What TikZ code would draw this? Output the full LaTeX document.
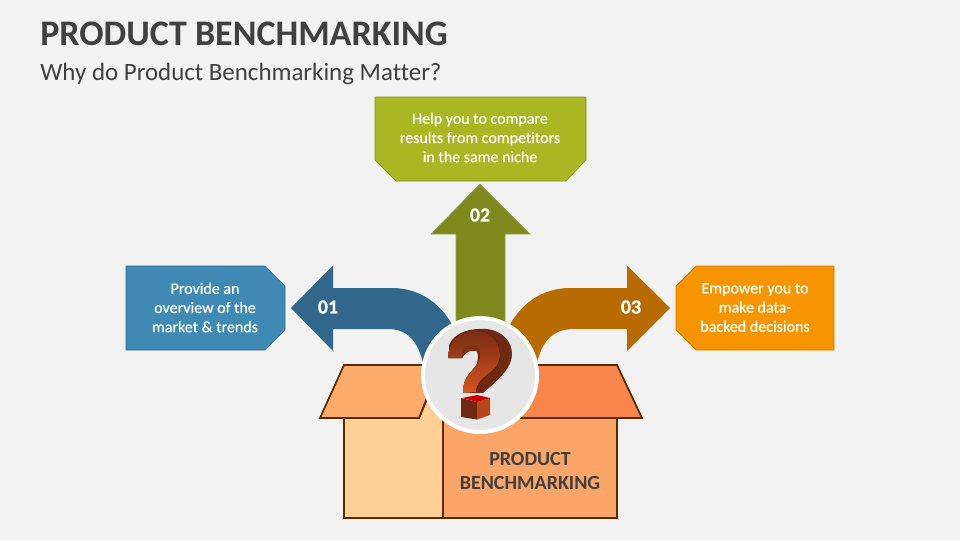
\documentclass[tikz,border=0pt]{standalone}
\usepackage{fontspec}
\setmainfont{Carlito}[Ligatures=NoCommon]
\newfontfamily\cardfont{Carlito}[Ligatures=NoCommon,FakeBold=0.4]
\newfontfamily\numfont{Carlito Bold}[FakeBold=0.6]
\definecolor{pagebg}{HTML}{F2F2F2}
\definecolor{inkgrey}{HTML}{404040}
\definecolor{boxline}{HTML}{5C2A00}
\definecolor{cardblue}{HTML}{3F8AB5}
\definecolor{cardgreen}{HTML}{A9B822}
\definecolor{cardorange}{HTML}{F79500}
\definecolor{arrowblue}{HTML}{31678A}
\definecolor{arrowgreen}{HTML}{7D8A1B}
\definecolor{arroworange}{HTML}{B86B00}
\definecolor{qdark}{HTML}{6E2A10}
\definecolor{qtop}{HTML}{782C14}
\definecolor{qbottom}{HTML}{D65420}
\tikzset{
  cardtext/.style={text=white,align=center,font=\cardfont\fontsize{12}{14.4}\selectfont},
  numtext/.style={text=white,font=\numfont\fontsize{15}{18}\selectfont},
  boxpart/.style={draw=boxline,line width=1.3pt,line join=miter}
}
\begin{document}
\begin{tikzpicture}[x=0.75pt,y=-0.75pt]
  \useasboundingbox (0,0) rectangle (960,540);
  \fill[pagebg] (0,0) rectangle (960,540);
  \node[anchor=west,inner sep=0pt,text=inkgrey,font=\bfseries\fontsize{27}{32}\selectfont] (title) at (40,34) {PRODUCT BENCHMARKING};
  \node[anchor=west,inner sep=0pt,text=inkgrey,font=\fontsize{18.7}{22}\selectfont] (subtitle) at (40,74) {Why do Product Benchmarking Matter?};
  % cards
  \filldraw[fill=cardblue,draw=arrowblue] (126,266)--(265,266)--(285,286)--(285,330)--(265,350)--(126,350)--cycle;
  \filldraw[fill=cardgreen,draw=arrowgreen!85!cardgreen] (375,97)--(586,97)--(586,160)--(566,181)--(396,181)--(375,160)--cycle;
  \filldraw[fill=cardorange,draw=arroworange!70!cardorange] (696,266)--(834,266)--(834,350)--(696,350)--(676,330)--(676,286)--cycle;
  \node[cardtext] (cardleft) at (205,307.5) {Provide an\\overview of the\\market \& trends};
  \node[cardtext] (cardtop) at (480,137.5) {Help you to compare\\results from competitors\\in the same niche};
  \node[cardtext] (cardright) at (755,307.5) {Empower you to\\make data-\\backed decisions};
  % arrows
  \fill[arrowblue] (291,308)--(333,265.5)--(333,288)--(392,288) .. controls (420,288) and (443,304) .. (456,332)--(424,370)--(423,363) .. controls (418,342) and (408,329) .. (388,329)--(333,329)--(333,351)--cycle;
  \fill[arroworange] (670,308)--(627,265.5)--(627,288)--(570,288) .. controls (542,288) and (519,304) .. (506,332)--(536,370)--(537,363) .. controls (542,342) and (552,329) .. (574,329)--(627,329)--(627,351)--cycle;
  \filldraw[fill=arrowgreen,draw=arrowgreen!80!white,line width=0.4pt] (480,184)--(530,234)--(505,234)--(505,330)--(456,330)--(456,234)--(431,234)--cycle;
  \node[numtext] (numleft) at (328,307) {01};
  \node[numtext] (numtop) at (480,215) {02};
  \node[numtext] (numright) at (631,307) {03};
  % box
  \filldraw[boxpart,fill={rgb,255:red,255;green,208;blue,149}] (344,418)--(419,418)--(433,385)--(443,385)--(443,518)--(344,518)--cycle;
  \filldraw[boxpart,fill={rgb,255:red,252;green,165;blue,105}] (443,418)--(617,418)--(617,518)--(443,518)--cycle;
  \filldraw[boxpart,fill={rgb,255:red,253;green,171;blue,106}] (344,365)--(440,365)--(419,418)--(320,418)--cycle;
  \filldraw[boxpart,fill={rgb,255:red,249;green,134;blue,77}] (490,365)--(617,365)--(642,418)--(510,418)--cycle;
  \node[align=center,text=inkgrey,font=\bfseries\fontsize{15}{17.6}\selectfont] (boxlabel) at (530,471) {PRODUCT\\BENCHMARKING};
  % circle
  \node[circle,minimum size=85.5pt,inner sep=0pt,fill={rgb,255:red,230;green,230;blue,230},draw=white,line width=3pt] (badge) at (480,375) {};
  % question mark
  \fill[qdark] (449,345) .. controls (455,332) and (470,328) .. (487,329) .. controls (503,331) and (512,342) .. (512,354) .. controls (512,367) and (500,378) .. (490,387) -- (483,393) -- (470,393) -- (477,363) .. controls (480,352) and (475,345) .. (468,345) .. controls (463,346) and (462,352) .. (462,358) -- (449,358) -- cycle;
  \fill[top color=qtop,bottom color=qbottom] (448,358) .. controls (449,340) and (460,330) .. (475,330) .. controls (490,330) and (500,342) .. (500,355) .. controls (500,367) and (490,372) .. (483,378) .. controls (479,382) and (476,386) .. (476,392) -- (463,393) .. controls (463,385) and (464,381) .. (469,374) .. controls (476,366) and (481,360) .. (480,353) .. controls (479,346) and (474,344) .. (469,345) .. controls (464,346) and (462,352) .. (462,358) -- cycle;
  \fill[qtop!90!qbottom] (462,358) .. controls (462,352) and (464,346) .. (469,345) .. controls (474,344) and (479,346) .. (480,353) .. controls (474,349) and (467,350) .. (462,358) -- cycle;
  \fill[qdark] (461,398)--(477,402)--(477,419.5)--(461,417)--cycle;
  \fill[qbottom!70!qdark] (477,402)--(490,398)--(490,415)--(477,419.5)--cycle;
  \fill[red!80!black] (462,398)--(477,395)--(490,398)--(477,402)--cycle;
\end{tikzpicture}
\end{document}
